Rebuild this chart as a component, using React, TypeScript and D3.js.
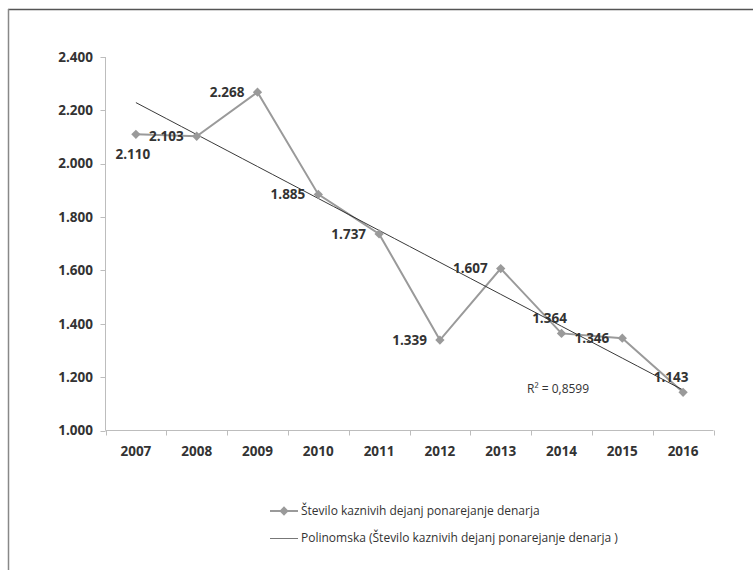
import React, { useEffect, useRef } from "react";
import * as d3 from "d3";

const years = ["2007", "2008", "2009", "2010", "2011", "2012", "2013", "2014", "2015", "2016"];
const cases = [2110, 2103, 2268, 1885, 1737, 1339, 1607, 1364, 1346, 1143];
const yTicks = [1000, 1200, 1400, 1600, 1800, 2000, 2200, 2400];
const labelPlacement = ["below", "left", "left", "left", "left", "left", "left", "above", "left", "above"];
const seriesName = "Število kaznivih dejanj ponarejanje denarja";
const trendName = "Polinomska (Število kaznivih dejanj ponarejanje denarja )";
const rSquaredText = "R² = 0,8599";

// least squares fit of y = a + b x + c x^2 with x = 1..n (like Excel)
const quadFit = (ys: number[]) => {
  const xs = ys.map((_, i) => i + 1);
  const s = (p: number) => d3.sum(xs, (x) => Math.pow(x, p));
  const t = (p: number) => d3.sum(xs, (x, i) => Math.pow(x, p) * ys[i]);
  const m = [
    [s(0), s(1), s(2), t(0)],
    [s(1), s(2), s(3), t(1)],
    [s(2), s(3), s(4), t(2)],
  ];
  for (let i = 0; i < 3; i++) {
    for (let k = i + 1; k < 3; k++) {
      const f = m[k][i] / m[i][i];
      for (let j = i; j < 4; j++) m[k][j] -= f * m[i][j];
    }
  }
  const c = m[2][3] / m[2][2];
  const b = (m[1][3] - m[1][2] * c) / m[1][1];
  const a = (m[0][3] - m[0][1] * b - m[0][2] * c) / m[0][0];
  return (x: number) => a + b * x + c * x * x;
};

const App = () => {
  const ref = useRef<SVGSVGElement>(null);

  useEffect(() => {
    const width = 753;
    const height = 570;
    const left = 105.5;
    const right = 713.5;
    const top = 57;
    const bottom = 430.5;
    const font = "'Open Sans', Lato, sans-serif";
    const numSize = 13.5;
    const textColor = "#333";
    const axisColor = "#bdbdbd";
    const seriesColor = "#9a9a9a";
    const fmt = (v: number) => d3.format(",")(v).replace(",", ".");

    const svg = d3.select(ref.current);
    svg.selectAll("*").remove();
    svg.attr("width", width).attr("height", height);

    svg.append("rect").attr("width", width).attr("height", height).attr("fill", "#fff");

    // outer frame (top and left edge visible)
    svg.append("line").attr("x1", 8).attr("x2", width).attr("y1", 9.5).attr("y2", 9.5)
      .attr("stroke", "#555").attr("stroke-width", 1.5);
    svg.append("line").attr("x1", 8.5).attr("x2", 8.5).attr("y1", 9).attr("y2", height)
      .attr("stroke", "#888").attr("stroke-width", 1.5);

    const x = d3.scaleBand().domain(years).range([left, right]);
    const y = d3.scaleLinear().domain([1000, 2400]).range([bottom, top]);
    const cx = (i: number) => (x(years[i]) as number) + x.bandwidth() / 2;

    // y axis
    const yAxis = svg.append("g");
    yAxis.append("line").attr("x1", left).attr("x2", left).attr("y1", top).attr("y2", bottom)
      .attr("stroke", axisColor);
    yTicks.forEach((v) => {
      yAxis.append("line").attr("x1", left - 5).attr("x2", left).attr("y1", Math.round(y(v)) + 0.5)
        .attr("y2", Math.round(y(v)) + 0.5).attr("stroke", axisColor);
      yAxis.append("text").attr("x", 93).attr("y", y(v)).attr("dy", "0.35em")
        .attr("text-anchor", "end").attr("font-family", font).attr("font-weight", "bold")
        .attr("font-size", numSize).attr("fill", textColor).text(fmt(v));
    });

    // x axis
    const xAxis = svg.append("g");
    xAxis.append("line").attr("x1", left).attr("x2", right).attr("y1", bottom).attr("y2", bottom)
      .attr("stroke", axisColor);
    [...years.map((d) => x(d) as number), right].forEach((p) => {
      xAxis.append("line").attr("x1", Math.round(p) + 0.5).attr("x2", Math.round(p) + 0.5)
        .attr("y1", bottom).attr("y2", bottom + 5).attr("stroke", axisColor);
    });
    years.forEach((d, i) => {
      xAxis.append("text").attr("x", cx(i)).attr("y", 451).attr("dy", "0.35em")
        .attr("text-anchor", "middle").attr("font-family", font).attr("font-weight", "bold")
        .attr("font-size", numSize).attr("fill", textColor).text(d);
    });

    // series line
    const line = d3.line<number>().x((_, i) => cx(i)).y((d) => y(d));
    svg.append("path").attr("d", line(cases)).attr("fill", "none")
      .attr("stroke", seriesColor).attr("stroke-width", 2);

    // trend line
    const fit = quadFit(cases);
    const trendXs = d3.range(1, 10.001, 0.25);
    const step = x.bandwidth();
    const trend = d3.line<number>().x((t) => cx(0) + (t - 1) * step).y((t) => y(fit(t)));
    svg.append("path").attr("d", trend(trendXs)).attr("fill", "none")
      .attr("stroke", "#222").attr("stroke-width", 0.9);

    // markers
    const diamond = d3.symbol().type(d3.symbolDiamond2).size(55);
    cases.forEach((v, i) => {
      svg.append("path").attr("d", diamond()).attr("transform", `translate(${cx(i)},${y(v)})`)
        .attr("fill", seriesColor);
    });

    // data labels
    cases.forEach((v, i) => {
      const px = cx(i);
      const py = y(v);
      const pos = labelPlacement[i];
      let lx = px - 13;
      let ly = py;
      let anchor = "end";
      if (pos === "below") {
        lx = px - 3; ly = py + 20; anchor = "middle";
      } else if (pos === "above") {
        lx = px - 12; ly = py - 15; anchor = "middle";
      }
      svg.append("text").attr("x", lx).attr("y", ly).attr("dy", "0.35em")
        .attr("text-anchor", anchor).attr("font-family", font).attr("font-weight", "bold")
        .attr("font-size", numSize).attr("fill", textColor).text(fmt(v));
    });

    // R squared
    svg.append("text").attr("x", 527).attr("y", 389).attr("dy", "0.35em")
      .attr("font-family", font).attr("font-size", 12).attr("fill", textColor).text(rSquaredText);

    // legend
    const legend = svg.append("g");
    legend.append("line").attr("x1", 270).attr("x2", 298).attr("y1", 511).attr("y2", 511)
      .attr("stroke", seriesColor).attr("stroke-width", 2);
    legend.append("path").attr("d", diamond()).attr("transform", "translate(284,511)")
      .attr("fill", seriesColor);
    legend.append("text").attr("x", 301).attr("y", 511).attr("dy", "0.35em")
      .attr("font-family", font).attr("font-size", 12).attr("fill", textColor).text(seriesName);
    legend.append("line").attr("x1", 270).attr("x2", 298).attr("y1", 538.5).attr("y2", 538.5)
      .attr("stroke", "#777").attr("stroke-width", 1);
    legend.append("text").attr("x", 301).attr("y", 538).attr("dy", "0.35em")
      .attr("font-family", font).attr("font-size", 12).attr("fill", textColor).text(trendName);
  }, []);

  return <svg ref={ref} style={{ position: "absolute", left: 0, top: 0 }} />;
};

export default App;
